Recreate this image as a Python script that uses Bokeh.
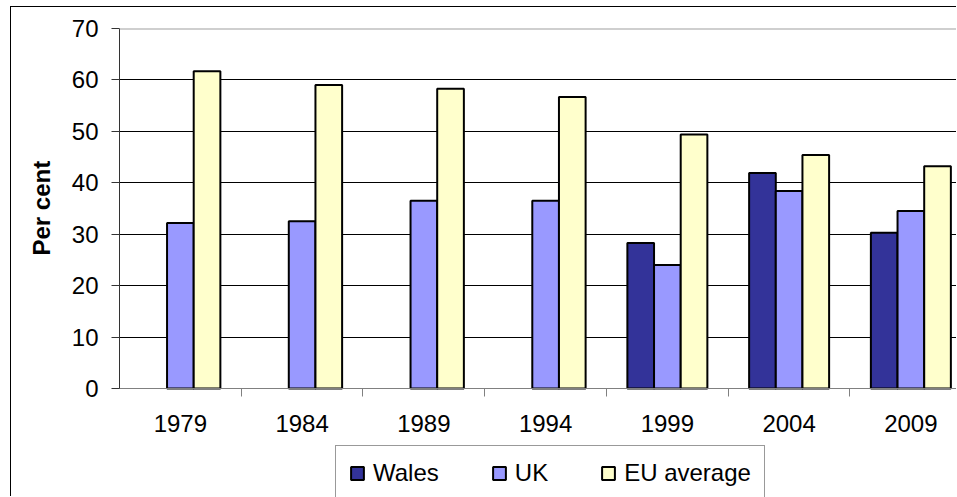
import math
from bokeh.plotting import figure
from bokeh.models import (Range1d, FixedTicker, Legend, LegendItem, Span, ColumnDataSource, Title)
from bokeh.embed import file_html
from bokeh.resources import INLINE

years = ["1979", "1984", "1989", "1994", "1999", "2004", "2009"]
wales = [math.nan, math.nan, math.nan, math.nan, 28.3, 41.9, 30.3]
uk = [32.2, 32.5, 36.5, 36.5, 24.0, 38.4, 34.5]
eu = [61.7, 59.0, 58.3, 56.7, 49.4, 45.4, 43.2]
series_names = ["Wales", "UK", "EU average"]
colors = ["#333399", "#9999ff", "#ffffcc"]
y_ticks = [0, 10, 20, 30, 40, 50, 60, 70]
y_label = "Per cent"

FONT = "Liberation Sans"
idx = list(range(len(years)))

p = figure(width=946, height=490, output_backend="svg", toolbar_location=None,
           x_range=Range1d(-0.5, 6.383), y_range=Range1d(-21.19, 70),
           min_border_left=107, min_border_top=21, min_border_bottom=0,
           min_border_right=0)
p.styles = {"border-left": "1px solid #000000", "border-top": "1px solid #000000",
            "margin-left": "10px", "margin-top": "6px"}
p.outline_line_color = None
p.background_fill_color = "white"
p.border_fill_color = "white"

bw = 0.219
renderers = []
for k, (vals, col) in enumerate(zip([wales, uk, eu], colors)):
    src = ColumnDataSource(dict(x=[i + (k - 1) * bw for i in idx], top=vals))
    r = p.vbar(x="x", top="top", bottom=0, width=bw, source=src,
               fill_color=col, line_color="black", line_width=2)
    renderers.append(r)

# grid
p.xgrid.visible = False
p.ygrid.ticker = FixedTicker(ticks=y_ticks[:-1])
p.ygrid.grid_line_color = "#000000"
p.ygrid.grid_line_width = 1
p.add_layout(Span(location=70, dimension="width", line_color="#a0a0a0", line_width=2))

# x axis (fixed at y=0 so the frame can reach the bottom for the legend)
xa = p.xaxis[0]
xa.fixed_location = 0
xa.ticker = FixedTicker(ticks=idx, minor_ticks=[i + 0.5 for i in idx[:-1]])
xa.major_label_overrides = {i: y for i, y in zip(idx, years)}
xa.major_tick_out = 0
xa.major_tick_in = 0
xa.minor_tick_out = 8
xa.minor_tick_in = 0
xa.minor_tick_line_color = "#808080"
xa.axis_line_color = "#808080"
xa.axis_line_width = 1
xa.major_label_standoff = 18
xa.major_label_text_font = FONT
xa.major_label_text_font_size = "24px"
xa.major_label_text_color = "black"

# y axis
ya = p.yaxis[0]
ya.ticker = FixedTicker(ticks=y_ticks)
ya.bounds = (0, 70)
ya.major_tick_out = 8
ya.major_tick_in = 0
ya.minor_tick_line_color = None
ya.major_tick_line_color = "#333333"
ya.axis_line_color = "#333333"
ya.major_label_standoff = 13
ya.major_label_text_font = FONT
ya.major_label_text_font_size = "24px"
ya.major_label_text_color = "black"

# y axis title (as a side title so it can be centred on the 0-70 span)
yt = Title(text=y_label, align="left", offset=242, standoff=28,
           text_font=FONT, text_font_size="24px", text_font_style="bold",
           text_color="black")
p.add_layout(yt, "left")

legend = Legend(items=[LegendItem(label=n, renderers=[r]) for n, r in zip(series_names, renderers)],
                orientation="horizontal", location=(216, -4),
                glyph_width=16, glyph_height=16, label_height=16,
                label_standoff=8, spacing=52, padding=13, margin=0,
                label_text_font=FONT, label_text_font_size="24px",
                label_text_color="black",
                border_line_color="#333333", border_line_width=1,
                background_fill_color="white", background_fill_alpha=1)
p.add_layout(legend, "center")

open("out.html", "w").write(file_html(p, INLINE))
